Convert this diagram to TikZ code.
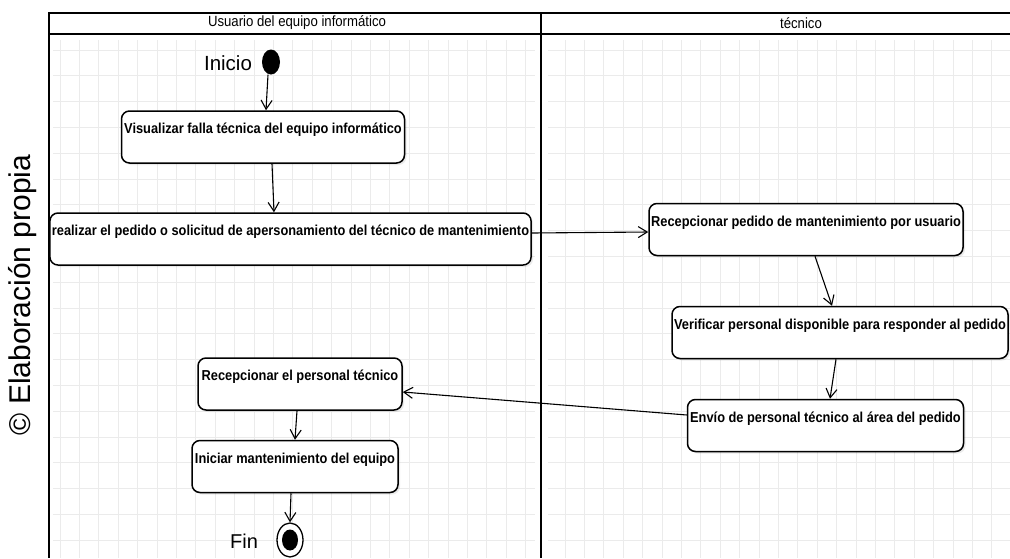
\documentclass[tikz,border=0pt]{standalone}
\usepackage{fontspec}
\setmainfont{Liberation Sans}
\newfontfamily\actfont[FakeStretch=0.89]{Liberation Sans}
\usetikzlibrary{arrows.meta,shapes.geometric,shadows}

\begin{document}
\begin{tikzpicture}[x=1pt, y=-1pt,
    act/.style={draw, line width=1.5pt, rounded corners=8pt, fill=white,
      drop shadow={shadow xshift=2pt, shadow yshift=-2pt, fill=black, opacity=0.08},
      font=\actfont\bfseries\fontsize{14.4}{16}\selectfont,
      inner xsep=2pt, inner ysep=3pt, text height=19.5pt, text depth=26.5pt},
    flow/.style={-{Straight Barb[length=9pt, width=11pt]}, line width=1.1pt},
    lane/.style={line width=1.9pt},
    gridline/.style={black!8, line width=0.8pt}]
  \useasboundingbox (0,0) rectangle (1010,558);
  % grid, left lane
  \foreach \i in {0,...,24}
    \draw[gridline] ({60+19.4*\i},40) -- ({60+19.4*\i},558);
  \foreach \j in {0,...,19}
    \draw[gridline] (53,{50+25.8*\j}) -- (535,{50+25.8*\j});
  % grid, right lane
  \foreach \i in {0,...,23}
    \draw[gridline] ({565+19.4*\i},40) -- ({565+19.4*\i},558);
  \foreach \j in {0,...,19}
    \draw[gridline] (548,{50+25.8*\j}) -- (1010,{50+25.8*\j});

  % swimlanes
  \draw[lane] (1010,13) -- (49,13) -- (49,558);
  \draw[lane] (49,34) -- (1010,34);
  \draw[lane] (541,13) -- (541,558);
  \node[font=\actfont\fontsize{14.8}{16}\selectfont] (usuario) at (297,23) {Usuario del equipo informático};
  \node[font=\actfont\fontsize{14.8}{16}\selectfont] (tecnico) at (801,23) {técnico};

  \node[rotate=90, inner sep=0, font=\fontsize{30}{32}\selectfont] (credito) at (23,295) {© Elaboración propia};

  % start / end
  \node[ellipse, fill=black, minimum width=18pt, minimum height=25pt, inner sep=0] (inicio) at (271,62) {};
  \node[font=\fontsize{20.5}{22}\selectfont] (lblinicio) at (228,63) {Inicio};
  \node[ellipse, draw, line width=1.3pt, fill=white, minimum width=26pt, minimum height=34pt, inner sep=0] (fin) at (290,540) {};
  \node[ellipse, fill=black, minimum width=16pt, minimum height=21pt, inner sep=0] (finpunto) at (fin.center) {};
  \node[font=\fontsize{20}{22}\selectfont] (lblfin) at (244,541) {Fin};

  % activities
  \node[act, minimum width=283pt] (visualizar) at (263,137) {Visualizar falla técnica del equipo informático};
  \node[act, minimum width=479pt] (realizar) at (290.5,239) {realizar el pedido o solicitud de apersonamiento del técnico de mantenimiento};
  \node[act, minimum width=314pt] (recepcionar) at (806,229.5) {Recepcionar pedido de mantenimiento por usuario};
  \node[act, minimum width=336pt] (verificar) at (840,332.5) {Verificar personal disponible para responder al pedido};
  \node[act, minimum width=276pt] (envio) at (825.5,425.5) {Envío de personal técnico al área del pedido};
  \node[act, minimum width=204pt] (recibir) at (300,384) {Recepcionar el personal técnico};
  \node[act, minimum width=206pt] (iniciar) at (295,466.5) {Iniciar mantenimiento del equipo};

  % flows
  \draw[flow] ([xshift=-3pt]inicio.south) -- ([xshift=3pt]visualizar.north);
  \draw[flow] ([xshift=9pt]visualizar.south) -- ([xshift=-16.5pt]realizar.north);
  \draw[flow] ([yshift=6pt]realizar.east) -- ([yshift=-2.5pt]recepcionar.west);
  \draw[flow] ([xshift=9pt]recepcionar.south) -- ([xshift=-8pt]verificar.north);
  \draw[flow] ([xshift=-4pt]verificar.south) -- ([xshift=4.5pt]envio.north);
  \draw[flow] ([yshift=10.5pt]envio.west) -- ([yshift=-8pt]recibir.east);
  \draw[flow] ([xshift=-3pt]recibir.south) -- (iniciar.north);
  \draw[flow] ([xshift=-4pt]iniciar.south) -- (fin.north);
\end{tikzpicture}
\end{document}
